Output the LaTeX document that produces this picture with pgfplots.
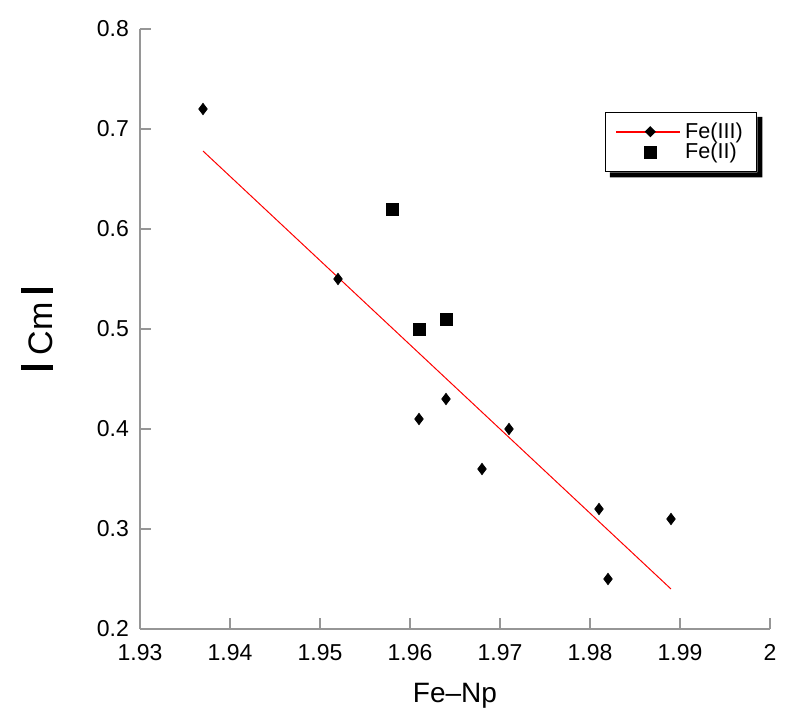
\documentclass[border=0pt]{standalone}
\usepackage{pgfplots}
\pgfplotsset{compat=1.18}
\usepackage{fontspec}
\setmainfont{Liberation Sans}
\definecolor{axgray}{RGB}{150,150,150}
\begin{document}
\begin{tikzpicture}
\begin{axis}[
  scale only axis,
  width=315pt, height=300pt,
  xmin=1.93, xmax=2, ymin=0.2, ymax=0.8,
  axis x line=bottom, axis y line=left,
  axis line style={axgray, line width=0.6pt, -},
  tick style={axgray, line width=0.6pt},
  tick align=inside,
  major tick length=5.5pt,
  xtick={1.93,1.94,1.95,1.96,1.97,1.98,1.99,2},
  ytick={0.2,0.3,0.4,0.5,0.6,0.7,0.8},
  xticklabel style={/pgf/number format/fixed, /pgf/number format/precision=2, yshift=-4pt},
  yticklabel style={xshift=-2pt},
  /pgf/number format/assume math mode=true,
  ticklabel style={font=\fontsize{11.5pt}{13pt}\selectfont},
  xlabel={Fe\textendash Np},
  ylabel={\rule{2.5pt}{16pt}\hspace{5pt}Cm\hspace{5pt}\rule{2.5pt}{16pt}},
  xlabel style={font=\fontsize{14pt}{16pt}\selectfont, at={(axis description cs:0.5,-0.1115)}, anchor=center},
  ylabel style={font=\fontsize{17pt}{19pt}\selectfont, at={(axis description cs:-0.1635,0.5)}, anchor=center},
  legend style={at={(axis description cs:0.738,0.862)}, anchor=north west,
    draw=black, line width=0.6pt, fill=white, name=leg,
    font=\fontsize{10.8pt}{11pt}\selectfont,
    row sep=-3pt, inner xsep=5pt, inner ysep=3pt},
  legend cell align=left,
]
\addplot[red, line width=0.5pt,
  legend image code/.code={
    \pgfsetstrokecolor{red}\pgfsetlinewidth{0.8pt}
    \pgfpathmoveto{\pgfqpoint{-2pt}{0pt}}\pgfpathlineto{\pgfqpoint{30pt}{0pt}}\pgfusepath{stroke}
    \pgfsetfillcolor{black}
    \pgfpathmoveto{\pgfqpoint{15pt}{2.8pt}}\pgfpathlineto{\pgfqpoint{12.2pt}{0pt}}
    \pgfpathlineto{\pgfqpoint{15pt}{-2.8pt}}\pgfpathlineto{\pgfqpoint{17.8pt}{0pt}}
    \pgfpathclose\pgfusepath{fill}
  }] coordinates {(1.937,0.678) (1.989,0.240)};
\addlegendentry{Fe(III)}
\addplot[only marks, mark=diamond*, mark size=2.8pt, black, forget plot] coordinates {
  (1.937,0.72) (1.952,0.55) (1.961,0.41) (1.964,0.43) (1.968,0.36)
  (1.971,0.40) (1.981,0.32) (1.989,0.31) (1.982,0.25)
};
\addplot[only marks, mark=square*, mark size=3pt, black,
  legend image code/.code={
    \fill[black] (12pt,-3pt) rectangle (18pt,3pt);
  }] coordinates {
  (1.958,0.62) (1.961,0.50) (1.964,0.51)
};
\addlegendentry{Fe(II)}
\end{axis}
\fill[black] ([xshift=2.5pt]leg.south west) -- ([xshift=2.5pt,yshift=-2.5pt]leg.south west)
  -- ([xshift=2.5pt,yshift=-2.5pt]leg.south east) -- ([xshift=2.5pt,yshift=-2.5pt]leg.north east)
  -- ([yshift=-2.5pt]leg.north east) -- (leg.south east) -- cycle;
\path[use as bounding box] (-70pt,-44.5pt) rectangle (330pt,314.5pt);
\end{tikzpicture}
\end{document}
